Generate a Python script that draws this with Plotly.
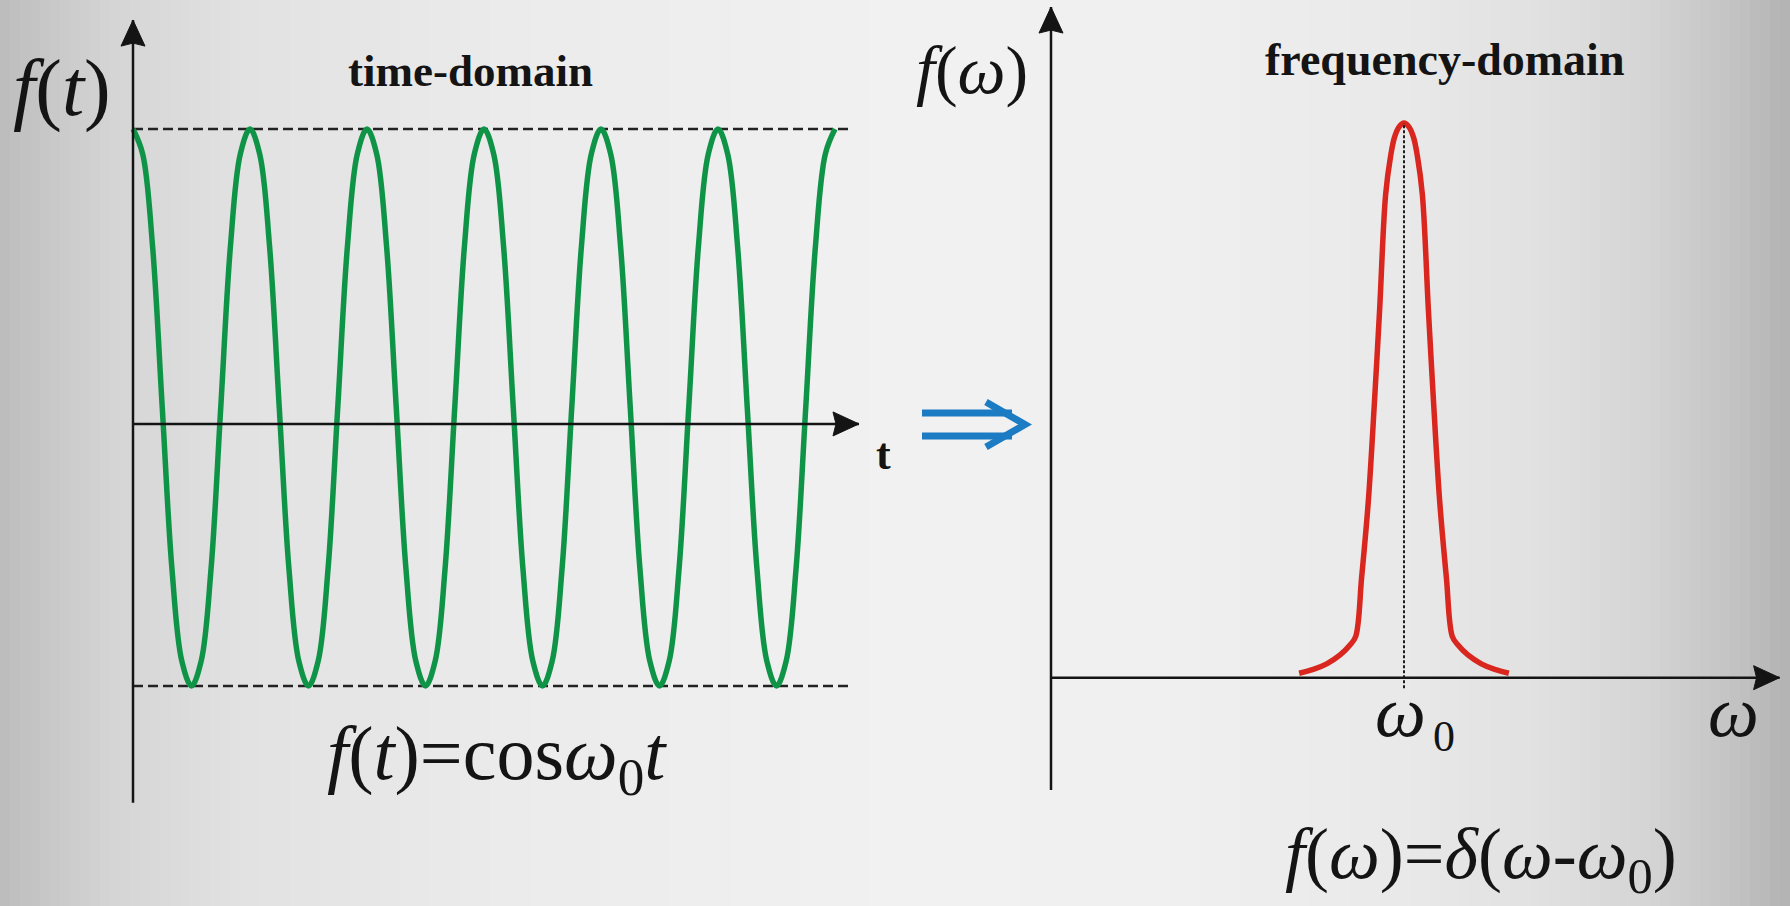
import numpy as np
import plotly.graph_objects as go

# ---------------- data ----------------
# time-domain signal f(t) = cos(w0 t); t measured in periods of the carrier
t_samples = [
    0.0, 0.083, 0.167, 0.25, 0.333, 0.417, 0.5, 0.583, 0.667, 0.75, 0.833, 0.917,
    1.0, 1.083, 1.167, 1.25, 1.333, 1.417, 1.5, 1.583, 1.667, 1.75, 1.833, 1.917,
    2.0, 2.083, 2.167, 2.25, 2.333, 2.417, 2.5, 2.583, 2.667, 2.75, 2.833, 2.917,
    3.0, 3.083, 3.167, 3.25, 3.333, 3.417, 3.5, 3.583, 3.667, 3.75, 3.833, 3.917,
    4.0, 4.083, 4.167, 4.25, 4.333, 4.417, 4.5, 4.583, 4.667, 4.75, 4.833, 4.917,
    5.0, 5.083, 5.167, 5.25, 5.333, 5.417, 5.5, 5.583, 5.667, 5.75, 5.833, 5.917,
    6.0,
]
cos_values = [
    1.0, 0.91, 0.58, 0.0, -0.58, -0.91, -1.0, -0.91, -0.58, 0.0, 0.58, 0.91,
    1.0, 0.91, 0.58, 0.0, -0.58, -0.91, -1.0, -0.91, -0.58, 0.0, 0.58, 0.91,
    1.0, 0.91, 0.58, 0.0, -0.58, -0.91, -1.0, -0.91, -0.58, 0.0, 0.58, 0.91,
    1.0, 0.91, 0.58, 0.0, -0.58, -0.91, -1.0, -0.91, -0.58, 0.0, 0.58, 0.91,
    1.0, 0.91, 0.58, 0.0, -0.58, -0.91, -1.0, -0.91, -0.58, 0.0, 0.58, 0.91,
    1.0, 0.91, 0.58, 0.0, -0.58, -0.91, -1.0, -0.91, -0.58, 0.0, 0.58, 0.91,
    1.0,
]

# frequency-domain line shape; omega in units of w0, amplitude normalised to the peak
omega_samples = [
    0.703, 0.743, 0.781, 0.819, 0.847, 0.863, 0.880, 0.899, 0.917, 0.931,
    0.948, 0.962, 0.973, 0.986,
    1.0,
    1.014, 1.027, 1.038, 1.052,
    1.069, 1.083, 1.101, 1.120, 1.137, 1.153, 1.181, 1.219, 1.257, 1.297,
]
spectrum_values = [
    0.008, 0.015, 0.025, 0.041, 0.059, 0.074, 0.181, 0.319, 0.505, 0.664,
    0.871, 0.940, 0.974, 0.993,
    1.0,
    0.993, 0.974, 0.940, 0.871,
    0.664, 0.505, 0.319, 0.181, 0.074, 0.059, 0.041, 0.025, 0.015, 0.008,
]

# ---------------- page geometry ----------------
W, H = 1790, 906

# left panel: pixel = origin + value * scale
T_ORIGIN, T_SCALE = 133.0, 117.0        # x: t (periods)
F_ORIGIN, F_SCALE = 407.5, 278.5        # y: f(t)
# right panel
W_ORIGIN, W_SCALE = 1051.0, 353.0       # x: omega / w0
G_ORIGIN, G_SCALE = 677.7, 554.7        # y: f(omega)


def xrange_for(origin, scale):
    return [(0 - origin) / scale, (W - origin) / scale]


def yrange_for(origin, scale):
    return [(origin - H) / scale, origin / scale]


def P(xpx, ypx):
    return xpx / W, 1 - ypx / H


def left_px(t, f):
    return T_ORIGIN + t * T_SCALE, F_ORIGIN - f * F_SCALE


def right_px(w, g):
    return W_ORIGIN + w * W_SCALE, G_ORIGIN - g * G_SCALE


SERIF = "Liberation Serif, Times New Roman, serif"
INK = "#141414"

fig = go.Figure()

fig.add_trace(go.Scatter(
    x=t_samples, y=cos_values, mode="lines",
    line=dict(color="#0f9447", width=5.5, shape="spline", smoothing=1.0),
    xaxis="x", yaxis="y", hoverinfo="skip", showlegend=False,
))
fig.add_trace(go.Scatter(
    x=omega_samples, y=spectrum_values, mode="lines",
    line=dict(color="#d9261e", width=5.5, shape="spline", smoothing=1.0),
    xaxis="x2", yaxis="y2", hoverinfo="skip", showlegend=False,
))

shapes = []

# soft grey backdrop, lighter towards the middle
stops_x = [0, 50, 120, 250, 500, 900, 1150, 1400, 1550, 1650, 1730, 1790]
stops_g = [188, 200, 214, 226, 235, 241, 240, 233, 224, 212, 196, 178]
step = 10
for x0 in range(0, W, step):
    g = int(round(np.interp(x0 + step / 2, stops_x, stops_g)))
    shapes.append(dict(
        type="rect", xref="paper", yref="paper",
        x0=x0 / W, x1=min(x0 + step + 1, W) / W, y0=0, y1=1,
        fillcolor=f"rgb({g},{g},{g})", line=dict(width=0), layer="below",
    ))

# amplitude guides at +1 / -1
for level in (1, -1):
    shapes.append(dict(
        type="line", xref="x", yref="y", x0=0, x1=6.128, y0=level, y1=level,
        line=dict(color="#222222", width=2.5, dash="10px,5px"), layer="below",
    ))

# centre-frequency marker
shapes.append(dict(
    type="line", xref="x2", yref="y2", x0=1, x1=1, y0=-0.019, y1=1.0,
    line=dict(color="#1e1e1e", width=2, dash="3px,2px"),
))


def head_path(tip, direction, length=26, half=12, notch=3):
    """Filled arrowhead path in paper coordinates; direction 'up' or 'right'."""
    tx, ty = tip
    if direction == "up":
        pts = [(tx, ty), (tx + half, ty + length), (tx, ty + length - notch),
               (tx - half, ty + length)]
    else:
        pts = [(tx, ty), (tx - length, ty - half), (tx - length + notch, ty),
               (tx - length, ty + half)]
    pp = [P(x, y) for x, y in pts]
    return "M" + " L".join(f"{x},{y}" for x, y in pp) + " Z"


def axis_with_head(xref, yref, to_px, x0, y0, x1, y1, direction):
    shapes.append(dict(type="line", xref=xref, yref=yref,
                       x0=x0, y0=y0, x1=x1, y1=y1,
                       line=dict(color=INK, width=2.5)))
    shapes.append(dict(type="path", xref="paper", yref="paper",
                       path=head_path(to_px(x1, y1), direction),
                       fillcolor=INK, line=dict(color=INK, width=1)))


# left panel axes
axis_with_head("x", "y", left_px, 0, -1.419, 0, 1.391, "up")
axis_with_head("x", "y", left_px, 0, -0.059, 6.205, -0.059, "right")
# right panel axes
axis_with_head("x2", "y2", right_px, 0, -0.2025, 0, 1.209, "up")
axis_with_head("x2", "y2", right_px, 0, 0, 2.064, 0, "right")

# transform arrow between the panels
BLUE = "#1b7bc3"
for yy in (413, 436):
    (ax0, ay0), (ax1, ay1) = P(922, yy), P(1012, yy)
    shapes.append(dict(type="line", xref="paper", yref="paper",
                       x0=ax0, y0=ay0, x1=ax1, y1=ay1,
                       line=dict(color=BLUE, width=7)))
c1, c2, c3 = P(986, 402), P(1025, 424.5), P(986, 447)
shapes.append(dict(
    type="path", xref="paper", yref="paper",
    path=f"M{c1[0]},{c1[1]} L{c2[0]},{c2[1]} L{c3[0]},{c3[1]}",
    line=dict(color=BLUE, width=7),
))

annotations = []


def label(text, xpx, ypx, size, xanchor="center"):
    x, y = P(xpx, ypx)
    annotations.append(dict(
        xref="paper", yref="paper", x=x, y=y, text=text, showarrow=False,
        xanchor=xanchor, yanchor="middle",
        font=dict(family=SERIF, size=size, color=INK),
    ))


label("<i>f</i>(<i>t</i>)", 11, 89, 80, xanchor="left")
label("<b>time-domain</b>", 470, 71, 45)
label("<b>t</b>", 883, 454, 44)
label("<i>f</i>(<i>ω</i>)", 972, 70, 68)
label("<b>frequency-domain</b>", 1445, 59, 46)
label("<i>ω</i>", 1400, 712, 72)
label("0", 1444, 736, 44)
label("<i>ω</i>", 1733, 712, 72)
label("<i>f</i>(<i>t</i>)=cos<i>ω</i><sub>0</sub><i>t</i>", 497, 759, 76)
label("<i>f</i>(<i>ω</i>)=<i>δ</i>(<i>ω</i>-<i>ω</i><sub>0</sub>)", 1481, 859, 72)

hidden = dict(visible=False, showgrid=False, zeroline=False, fixedrange=True)
fig.update_layout(
    width=W, height=H,
    margin=dict(l=0, r=0, t=0, b=0),
    paper_bgcolor="#eeeeee", plot_bgcolor="rgba(0,0,0,0)",
    xaxis=dict(domain=[0, 1], anchor="y", range=xrange_for(T_ORIGIN, T_SCALE), **hidden),
    yaxis=dict(domain=[0, 1], anchor="x", range=yrange_for(F_ORIGIN, F_SCALE), **hidden),
    xaxis2=dict(domain=[0, 1], anchor="y2", range=xrange_for(W_ORIGIN, W_SCALE), **hidden),
    yaxis2=dict(domain=[0, 1], anchor="x2", range=yrange_for(G_ORIGIN, G_SCALE), **hidden),
    shapes=shapes, annotations=annotations, showlegend=False,
)

fig.write_html("out.html", config=dict(displayModeBar=False))
